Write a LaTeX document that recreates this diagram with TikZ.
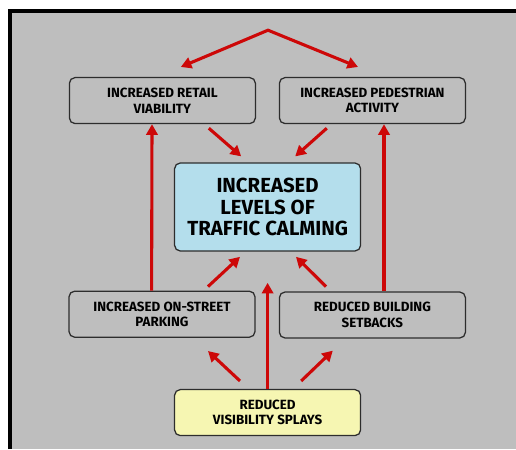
\documentclass[tikz,border=0pt]{standalone}
\usepackage{fontspec}
\setmainfont{Fira Sans}
\usepackage{tikz}
\usetikzlibrary{positioning, arrows.meta}
\definecolor{PanelGrey}{RGB}{190,190,190}
\definecolor{ArrowRed}{RGB}{205,8,8}
\definecolor{CalmBlue}{RGB}{180,222,236}
\definecolor{SplayYellow}{RGB}{246,246,178}
\definecolor{BoxEdge}{RGB}{45,45,45}

\begin{document}
\begin{tikzpicture}[
    effect/.style={draw=BoxEdge, line width=0.9pt, rounded corners=4pt,
      minimum width=4.65cm, minimum height=1.15cm, align=center, inner sep=1pt,
      font=\bfseries\fontsize{9.5}{11}\selectfont},
    mainbox/.style={effect, fill=CalmBlue, minimum height=2.2cm,
      font=\bfseries\fontsize{14.5}{15}\selectfont},
    redarrow/.style={draw=ArrowRed, line width=2.2pt,
      -{Triangle[length=7.5pt,width=8pt]}}
  ]
    \useasboundingbox (0,0) rectangle (12.9,11.225);

    % Panel and frame
    \fill[PanelGrey] (0.25,0) rectangle (12.9,10.95);
    \draw[line width=2.8pt] (0.25,0) -- (0.25,10.95) -- (12.9,10.95);

    % Boxes
    \node[effect] (retail) at (4.06,8.71) {INCREASED RETAIL\\VIABILITY};
    \node[effect] (pedestrian) at (9.31,8.71) {INCREASED PEDESTRIAN\\ACTIVITY};
    \node[mainbox] (calming) at (6.69,6.05) {INCREASED\\LEVELS OF\\TRAFFIC CALMING};
    \node[effect] (parking) at (4.05,3.37) {INCREASED ON-STREET\\PARKING};
    \node[effect] (setbacks) at (9.31,3.35) {REDUCED BUILDING\\SETBACKS};
    \node[effect, fill=SplayYellow] (splays) at (6.69,0.91) {REDUCED\\VISIBILITY SPLAYS};

    % Top fork
    \coordinate (apex) at (6.7,10.47);
    \draw[redarrow, {Triangle[length=7.5pt,width=8pt]}-{Triangle[length=7.5pt,width=8pt]}]
      ([shift={(0.46,0.25)}]retail.north) -- (apex) -- ([shift={(-0.36,0.25)}]pedestrian.north);

    % Into the centre box
    \draw[redarrow] ([shift={(1.16,-0.1)}]retail.south) -- ([shift={(-0.66,0.15)}]calming.north);
    \draw[redarrow] ([shift={(-1.14,-0.1)}]pedestrian.south) -- ([shift={(0.69,0.15)}]calming.north);
    \draw[redarrow] ([shift={(1.15,0.1)}]parking.north) -- ([shift={(-0.69,-0.13)}]calming.south);
    \draw[redarrow] ([shift={(-1.16,0.12)}]setbacks.north) -- ([shift={(0.71,-0.13)}]calming.south);
    \draw[redarrow] (splays.north) -- ([yshift=-0.78cm]calming.south);

    % Side columns
    \draw[redarrow] ([xshift=-0.26cm]parking.north) -- ([xshift=-0.26cm]retail.south);
    \draw[redarrow] ([xshift=0.29cm]setbacks.north) -- ([xshift=0.29cm]pedestrian.south);

    % From the splays
    \draw[redarrow] ([shift={(-0.69,0.2)}]splays.north) -- ([shift={(1.15,-0.33)}]parking.south);
    \draw[redarrow] ([shift={(0.84,0.2)}]splays.north) -- ([shift={(-0.99,-0.3)}]setbacks.south);
\end{tikzpicture}
\end{document}
